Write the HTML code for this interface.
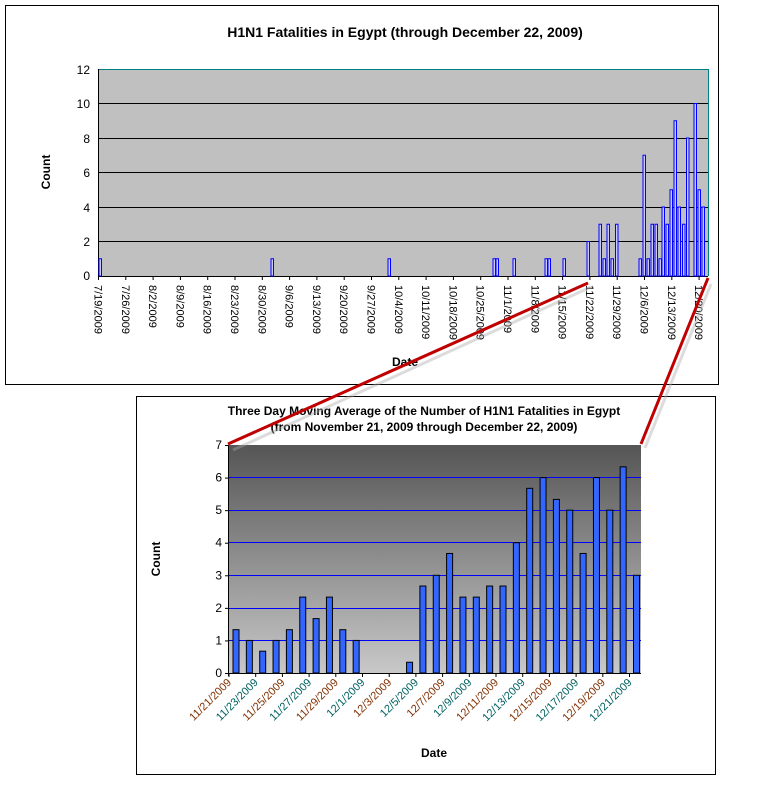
<!DOCTYPE html>
<html><head><style>
body{margin:0;background:#fff;width:776px;height:804px;overflow:hidden}
svg{display:block;font-family:"Liberation Sans",Arial,sans-serif}
</style></head><body>
<svg width="776" height="804" xmlns="http://www.w3.org/2000/svg">
<defs>
<linearGradient id="g" x1="0" y1="0" x2="0" y2="1">
<stop offset="0" stop-color="#555"/><stop offset="1" stop-color="#c8c8c8"/>
</linearGradient>
</defs>
<!-- top chart -->
<rect x="5.5" y="5.5" width="713" height="379" fill="#fff" stroke="#000"/>
<text x="405" y="37" text-anchor="middle" font-size="14" font-weight="bold">H1N1 Fatalities in Egypt (through December 22, 2009)</text>
<rect x="98" y="69" width="610" height="207" fill="#c0c0c0"/>
<line x1="98" y1="69.5" x2="708" y2="69.5" stroke="#008080"/>
<line x1="708.5" y1="69" x2="708.5" y2="276" stroke="#008080"/>
<g stroke="#000" stroke-width="1">
<line x1="98" y1="103.5" x2="708" y2="103.5"/><line x1="98" y1="138.5" x2="708" y2="138.5"/>
<line x1="98" y1="172.5" x2="708" y2="172.5"/><line x1="98" y1="207.5" x2="708" y2="207.5"/>
<line x1="98" y1="241.5" x2="708" y2="241.5"/>
<line x1="98.5" y1="69" x2="98.5" y2="276"/><line x1="98" y1="276.5" x2="708" y2="276.5"/>
</g>
<g font-size="12" text-anchor="end">
<text x="90" y="74">12</text><text x="90" y="108">10</text><text x="90" y="143">8</text>
<text x="90" y="177">6</text><text x="90" y="212">4</text><text x="90" y="246">2</text><text x="90" y="280">0</text>
</g>
<g stroke="#00f" fill="#c8c8ff" stroke-width="1" id="tb"></g>
<g id="tl" font-size="11"></g>
<text x="405" y="366" text-anchor="middle" font-size="12" font-weight="bold">Date</text>
<text transform="translate(50,172) rotate(-90)" text-anchor="middle" font-size="12" font-weight="bold">Count</text>

<!-- bottom chart -->
<rect x="136.5" y="396.5" width="579" height="378" fill="#fff" stroke="#000"/>
<text x="424" y="415" text-anchor="middle" font-size="12" font-weight="bold">Three Day Moving Average of the Number of H1N1 Fatalities in Egypt</text>
<text x="424" y="431" text-anchor="middle" font-size="12" font-weight="bold">(from November 21, 2009 through December 22, 2009)</text>
<rect x="229" y="445" width="412" height="228" fill="url(#g)"/>
<g stroke="#0000ff" stroke-width="1">
<line x1="229" y1="477.5" x2="641" y2="477.5"/><line x1="229" y1="510.5" x2="641" y2="510.5"/>
<line x1="229" y1="542.5" x2="641" y2="542.5"/><line x1="229" y1="575.5" x2="641" y2="575.5"/>
<line x1="229" y1="608.5" x2="641" y2="608.5"/><line x1="229" y1="640.5" x2="641" y2="640.5"/>
</g>
<g stroke="#000"><line x1="228.5" y1="445" x2="228.5" y2="676"/><line x1="225" y1="673.5" x2="641" y2="673.5"/></g>
<g font-size="12" text-anchor="end" id="bya"></g>
<g id="bb" fill="#3366ff" stroke="#000" stroke-width="1"></g>
<g id="bl" font-size="11"></g>
<text x="434" y="757" text-anchor="middle" font-size="12" font-weight="bold">Date</text>
<text transform="translate(160,559) rotate(-90)" text-anchor="middle" font-size="12" font-weight="bold">Count</text>

<!-- red connector lines -->
<line x1="588" y1="283" x2="230" y2="446" stroke="#aaa" stroke-width="3" opacity="0.4" transform="translate(3,4)"/>
<line x1="708" y1="280" x2="642" y2="444" stroke="#aaa" stroke-width="3" opacity="0.4" transform="translate(3,4)"/>
<line x1="588" y1="283" x2="228" y2="444" stroke="#c00000" stroke-width="3"/>
<line x1="708" y1="278" x2="641" y2="444" stroke="#c00000" stroke-width="3"/>
</svg>
<script>
var NS="http://www.w3.org/2000/svg";
function el(p,t,a,txt){var e=document.createElementNS(NS,t);for(var k in a)e.setAttribute(k,a[k]);if(txt!=null)e.textContent=txt;document.getElementById(p).appendChild(e);}
var tb=[[100,1],[272,1],[389,1],[494,1],[497,1],[514,1],[546,1],[549,1],[564,1],[588,2],[600,3],[604,1],[608,3],[612,1],[616.5,3],[640,1],[644,7],[648,1],[652,3],[656,3],[660,1],[663,4],[667,3],[671,5],[675,9],[679,4],[683.5,3],[687.5,8],[695,10],[699,5],[703,4]];
tb.forEach(function(b){var h=b[1]*17.25;el("tb","rect",{x:b[0]-1,y:276-h,width:2.5,height:h});});
var tl=["7/19/2009","7/26/2009","8/2/2009","8/9/2009","8/16/2009","8/23/2009","8/30/2009","9/6/2009","9/13/2009","9/20/2009","9/27/2009","10/4/2009","10/11/2009","10/18/2009","10/25/2009","11/1/2009","11/8/2009","11/15/2009","11/22/2009","11/29/2009","12/6/2009","12/13/2009","12/20/2009"];
tl.forEach(function(s,i){var x=98.5+i*27.3;el("tl","line",{x1:x,y1:276,x2:x,y2:280,stroke:"#000"});el("tl","text",{transform:"translate("+(x-4)+",285) rotate(90)"},s);});
for(var v=0;v<=7;v++){el("bya","text",{x:222,y:677-v*32.57},""+v);el("bya","line",{x1:225,x2:229,y1:673.5-v*32.57,y2:673.5-v*32.57,stroke:"#000"});}
var bv=[1.33,1,0.67,1,1.33,2.33,1.67,2.33,1.33,1,0,0,0,0.33,2.67,3,3.67,2.33,2.33,2.67,2.67,4,5.67,6,5.33,5,3.67,6,5,6.33,3];
var cw=13.35;
bv.forEach(function(v,i){if(v>0){var h=v*32.57;el("bb","rect",{x:229+i*cw+4,y:673-h,width:6,height:h});}});
var bl=["11/21/2009","11/23/2009","11/25/2009","11/27/2009","11/29/2009","12/1/2009","12/3/2009","12/5/2009","12/7/2009","12/9/2009","12/11/2009","12/13/2009","12/15/2009","12/17/2009","12/19/2009","12/21/2009"];
bl.forEach(function(s,i){var x=229+i*2*cw;el("bl","line",{x1:x,y1:673,x2:x,y2:677,stroke:"#000"});el("bl","text",{transform:"translate("+(x+3)+",683) rotate(-45)","text-anchor":"end",fill:(i%2? "#006060":"#803000")},s);});
</script>
</body></html>
